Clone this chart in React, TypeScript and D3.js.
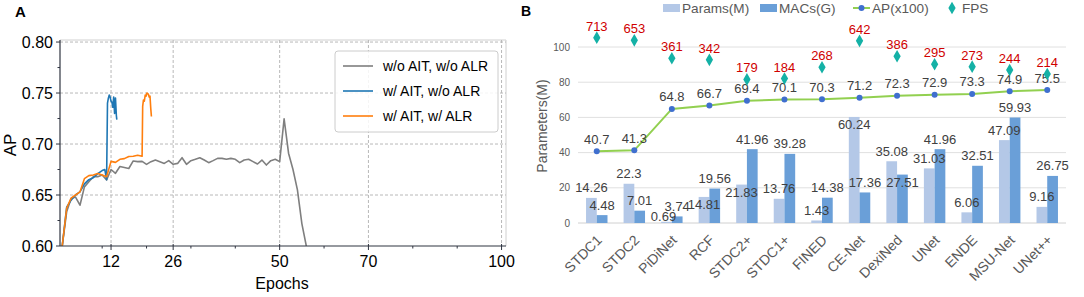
import React from "react";
import * as d3 from "d3";

const W = 1084;
const H = 297;
const FONT = "'Liberation Sans', Arial, Helvetica, sans-serif";

// ---------- Panel A data ----------
const grayEpochs = [
  1, 2, 3, 4, 5, 6, 7, 8, 9, 10, 11, 12, 13, 14, 15, 16, 17, 18, 19, 20, 21, 22, 23, 24, 25, 26, 27, 28,
  29, 30, 31, 32, 33, 34, 35, 36, 37, 38, 39, 40, 41, 42, 43, 44, 45, 46, 47, 48, 49, 50, 51, 52, 53, 54,
  55, 56,
];
const grayAP = [
  0.6, 0.6335, 0.6466, 0.648, 0.64, 0.658, 0.663, 0.668, 0.668, 0.6696, 0.6647, 0.675, 0.6713, 0.678,
  0.677, 0.676, 0.6834, 0.6827, 0.683, 0.68, 0.6827, 0.6844, 0.6827, 0.681, 0.6837, 0.6801, 0.681,
  0.6866, 0.6801, 0.6837, 0.685, 0.6866, 0.6843, 0.6817, 0.6837, 0.6859, 0.6859, 0.685, 0.6859, 0.685,
  0.6817, 0.6843, 0.685, 0.6827, 0.6804, 0.6843, 0.6794, 0.6837, 0.685, 0.6827, 0.7247, 0.691, 0.675,
  0.655, 0.622, 0.6,
];
const blueEpochs = [
  1, 2, 3, 4, 5, 6, 7, 8, 9, 10, 10.6, 11.0, 11.2, 11.4, 11.6, 11.8, 12.0, 12.2, 12.4, 12.6, 12.8, 13.0,
  13.2, 13.3,
];
const blueAP = [
  0.6, 0.638, 0.645, 0.65, 0.653, 0.661, 0.665, 0.667, 0.671, 0.674, 0.675, 0.665, 0.74, 0.745, 0.748,
  0.746, 0.742, 0.741, 0.736, 0.746, 0.73, 0.745, 0.728, 0.724,
];
const orangeEpochs = [
  1, 2, 3, 4, 5, 6, 7, 8, 9, 10, 11, 12, 13, 14, 15, 16, 17, 18, 19, 19.13, 19.3, 19.5, 19.7, 19.9, 20.1,
  20.4, 20.6, 20.78, 20.95, 21.1,
];
const orangeAP = [
  0.6, 0.637, 0.647, 0.65, 0.653, 0.666, 0.669, 0.6696, 0.671, 0.6696, 0.668, 0.683, 0.682, 0.685,
  0.6857, 0.6877, 0.688, 0.689, 0.688, 0.737, 0.743, 0.742, 0.748, 0.747, 0.75, 0.749, 0.746, 0.747,
  0.735, 0.727,
];
const seriesNamesA = ["w/o AIT, w/o ALR", "w/ AIT, w/o ALR", "w/ AIT, w/ ALR"];
const seriesColorsA = ["#7f7f7f", "#1f77b4", "#ff7f0e"];
const xTicksA = [12, 26, 50, 70, 100];
const xMinorA = [10, 20, 30, 40, 60, 80, 90];
const yTicksA = [0.6, 0.65, 0.7, 0.75, 0.8];
const yMinorA = [0.625, 0.675, 0.725, 0.775];

// ---------- Panel B data ----------
const models = [
  "STDC1", "STDC2", "PiDiNet", "RCF", "STDC2+", "STDC1+", "FINED", "CE-Net", "DexiNed", "UNet", "ENDE",
  "MSU-Net", "UNet++",
];
const paramsM = [14.26, 22.3, 0.69, 14.81, 21.83, 13.76, 1.43, 60.24, 35.08, 31.03, 6.06, 47.09, 9.16];
const macsG = [4.48, 7.01, 3.74, 19.56, 41.96, 39.28, 14.38, 17.36, 27.51, 41.96, 32.51, 59.93, 26.75];
const apX100 = [40.7, 41.3, 64.8, 66.7, 69.4, 70.1, 70.3, 71.2, 72.3, 72.9, 73.3, 74.9, 75.5];
const fps = [713, 653, 361, 342, 179, 184, 268, 642, 386, 295, 273, 244, 214];
const yTicksB = [0, 20, 40, 60, 80, 100];
const paramsLabelInside = new Set(["RCF", "STDC2+", "CE-Net"]);
const paramsLabelLow = new Set(["PiDiNet"]);
const macsLabelInside = new Set(["DexiNed"]);

const C_PARAMS = "#b4c8e7";
const C_MACS = "#6a9fd8";
const C_LINE = "#92d050";
const C_DOT = "#3f6fcf";
const C_FPS = "#14b1a6";
const C_RED = "#d00000";
const C_TXT = "#595959";

function PanelA() {
  const x = d3.scaleLinear().domain([0.5, 101]).range([60, 506]);
  const y = d3.scaleLinear().domain([0.6, 0.802]).range([246, 40]);
  const line = d3
    .line<[number, number]>()
    .x((d) => x(d[0]))
    .y((d) => y(d[1]));
  const series = [
    grayEpochs.map((e, i) => [e, grayAP[i]] as [number, number]),
    blueEpochs.map((e, i) => [e, blueAP[i]] as [number, number]),
    orangeEpochs.map((e, i) => [e, orangeAP[i]] as [number, number]),
  ];
  const [x0, x1] = x.range();
  const [y0, y1] = y.range();
  return (
    <g fontFamily={FONT}>
      <text x={15} y={17} fontSize={15} fontWeight="bold">A</text>
      <defs>
        <clipPath id="clipA">
          <rect x={x0} y={y1} width={x1 - x0} height={y0 - y1} />
        </clipPath>
      </defs>
      {/* frame */}
      <line x1={x0} x2={x1} y1={y1} y2={y1} stroke="#d0d0d0" />
      <line x1={x1} x2={x1} y1={y1} y2={y0} stroke="#d0d0d0" />
      {/* grid */}
      {xTicksA.map((t) => (
        <line key={"gx" + t} x1={x(t)} x2={x(t)} y1={y1} y2={y0} stroke="#b8b8b8" strokeDasharray="3,2" />
      ))}
      {yTicksA.slice(1).map((t) => (
        <line key={"gy" + t} x1={x0} x2={x1} y1={y(t)} y2={y(t)} stroke="#b8b8b8" strokeDasharray="3,2" />
      ))}
      {/* lines */}
      <g clipPath="url(#clipA)">
        {series.map((s, i) => (
          <path key={i} d={line(s) || ""} fill="none" stroke={seriesColorsA[i]} strokeWidth={1.6} strokeLinejoin="round" />
        ))}
      </g>
      {/* spines */}
      <line x1={x0} x2={x0} y1={y1} y2={y0} stroke="#2f3440" strokeWidth={1.2} />
      <line x1={x0} x2={x1} y1={y0} y2={y0} stroke="#2f3440" strokeWidth={1.2} />
      {/* ticks */}
      {yTicksA.map((t) => (
        <g key={"ty" + t}>
          <line x1={x0 - 4} x2={x0} y1={y(t)} y2={y(t)} stroke="#2f3440" />
          <text x={x0 - 7} y={y(t)} dy="0.35em" textAnchor="end" fontSize={16}>
            {t.toFixed(2)}
          </text>
        </g>
      ))}
      {yMinorA.map((t) => (
        <line key={"my" + t} x1={x0 - 2.5} x2={x0} y1={y(t)} y2={y(t)} stroke="#2f3440" />
      ))}
      {xTicksA.map((t) => (
        <g key={"tx" + t}>
          <line x1={x(t)} x2={x(t)} y1={y0 - 2} y2={y0 + 4} stroke="#2f3440" />
          <text x={x(t)} y={y0 + 21} textAnchor="middle" fontSize={16}>
            {t}
          </text>
        </g>
      ))}
      {xMinorA.map((t) => (
        <line key={"mx" + t} x1={x(t)} x2={x(t)} y1={y0} y2={y0 + 2.5} stroke="#2f3440" />
      ))}
      {/* axis labels */}
      <text x={282} y={289} textAnchor="middle" fontSize={16}>Epochs</text>
      <text transform={`translate(16,145) rotate(-90)`} textAnchor="middle" fontSize={17}>AP</text>
      {/* legend */}
      <rect x={335} y={51} width={163} height={81} rx={3} fill="white" fillOpacity={0.85} stroke="#cccccc" />
      {seriesNamesA.map((n, i) => (
        <g key={n} transform={`translate(0,${66 + i * 25})`}>
          <line x1={343} x2={373} y1={0} y2={0} stroke={seriesColorsA[i]} strokeWidth={1.6} />
          <text x={383} y={0} dy="0.36em" fontSize={14}>{n}</text>
        </g>
      ))}
    </g>
  );
}

function PanelB() {
  const x = d3.scaleBand<string>().domain(models).range([578, 1066]).paddingInner(0).paddingOuter(0);
  const bw = x.bandwidth();
  const inner = d3.scaleBand<string>().domain(["p", "m"]).range([0, bw]).paddingInner(0).paddingOuter(0.75);
  const y = d3.scaleLinear().domain([0, 100]).range([223, 47]);
  const fpsY = d3.scaleLog().domain([179, 713]).range([y(81.6), y(105.3)]);
  const cx = (m: string) => (x(m) as number) + bw / 2;
  const apLine = d3
    .line<number>()
    .x((_, i) => cx(models[i]))
    .y((d) => y(d));
  const diamond = d3.symbol().type(d3.symbolDiamond).size(46)();
  const [gx0, gx1] = x.range();
  const ib = inner.bandwidth();

  const legendY = 8;
  return (
    <g fontFamily={FONT}>
      <text x={521} y={16} fontSize={14} fontWeight="bold">B</text>
      {/* legend */}
      <rect x={663} y={legendY - 4} width={17} height={8} fill={C_PARAMS} />
      <text x={682} y={legendY} dy="0.36em" fontSize={13.6} fill={C_TXT}>Params(M)</text>
      <rect x={760} y={legendY - 4} width={17} height={8} fill={C_MACS} />
      <text x={779} y={legendY} dy="0.36em" fontSize={13.6} fill={C_TXT}>MACs(G)</text>
      <line x1={853} x2={870} y1={legendY} y2={legendY} stroke={C_LINE} strokeWidth={2} />
      <circle cx={861.5} cy={legendY} r={3} fill={C_DOT} />
      <text x={872} y={legendY} dy="0.36em" fontSize={13.6} fill={C_TXT}>AP(x100)</text>
      <path d={diamond || ""} transform={`translate(952,${legendY})`} fill={C_FPS} />
      <text x={962} y={legendY} dy="0.36em" fontSize={13.6} fill={C_TXT}>FPS</text>

      {/* grid */}
      {yTicksB.map((t) => (
        <g key={"gy" + t}>
          <line x1={gx0} x2={gx1} y1={y(t)} y2={y(t)} stroke={t === 0 ? "#d0d0d0" : "#e0e0e0"} strokeWidth={1} />
          <text x={570} y={y(t)} dy="0.35em" textAnchor="end" fontSize={10} fill={C_TXT}>
            {t}
          </text>
        </g>
      ))}
      <text transform={`translate(547,126) rotate(-90)`} textAnchor="middle" fontSize={14} fill={C_TXT}>
        Parameters(M)
      </text>

      {/* bars */}
      {models.map((m, i) => {
        const bx = x(m) as number;
        const px = bx + (inner("p") as number);
        const mx = bx + (inner("m") as number);
        const pTop = y(paramsM[i]);
        const mTop = y(macsG[i]);
        return (
          <g key={m}>
            <rect x={px} y={pTop} width={ib} height={y(0) - pTop} fill={C_PARAMS} />
            <rect x={mx} y={mTop} width={ib} height={y(0) - mTop} fill={C_MACS} />
          </g>
        );
      })}
      {/* bar labels */}
      {models.map((m, i) => {
        const bx = x(m) as number;
        const px = bx + (inner("p") as number) + ib / 2;
        const mx = bx + (inner("m") as number) + ib / 2;
        const pTop = y(paramsM[i]);
        const mTop = y(macsG[i]);
        const pY = paramsLabelInside.has(m)
          ? pTop + 12
          : paramsLabelLow.has(m)
          ? pTop - 1
          : pTop - 5.5;
        const mY = macsLabelInside.has(m) ? mTop + 12 : mTop - 5.5;
        return (
          <g key={"l" + m} fontSize={13} fill="#404040" textAnchor="middle">
            <text x={paramsLabelLow.has(m) ? px - 3 : px} y={pY}>
              {paramsM[i].toFixed(paramsM[i] === 22.3 ? 1 : 2)}
            </text>
            <text x={mx} y={mY}>{macsG[i].toFixed(2)}</text>
          </g>
        );
      })}

      {/* AP line */}
      <path d={apLine(apX100) || ""} fill="none" stroke={C_LINE} strokeWidth={2} />
      {apX100.map((v, i) => (
        <g key={"ap" + i}>
          <circle cx={cx(models[i])} cy={y(v)} r={3} fill={C_DOT} />
          <text x={cx(models[i])} y={y(v) - 7.5} textAnchor="middle" fontSize={13} fill="#404040">
            {v.toFixed(1)}
          </text>
        </g>
      ))}

      {/* FPS */}
      {fps.map((v, i) => (
        <g key={"fps" + i}>
          <path d={diamond || ""} transform={`translate(${cx(models[i])},${fpsY(v)})`} fill={C_FPS} />
          <text x={cx(models[i])} y={fpsY(v) - 7} textAnchor="middle" fontSize={13} fill={C_RED}>
            {v}
          </text>
        </g>
      ))}

      {/* x labels */}
      {models.map((m) => (
        <text
          key={"xl" + m}
          transform={`translate(${cx(m) + 6},${241}) rotate(-45)`}
          textAnchor="end"
          fontSize={14}
          fill={C_TXT}
        >
          {m}
        </text>
      ))}
    </g>
  );
}

export default function App() {
  return (
    <svg
      width={W}
      height={H}
      viewBox={`0 0 ${W} ${H}`}
      style={{ position: "absolute", left: 0, top: 0, background: "white" }}
    >
      <rect width={W} height={H} fill="white" />
      <PanelA />
      <PanelB />
    </svg>
  );
}
